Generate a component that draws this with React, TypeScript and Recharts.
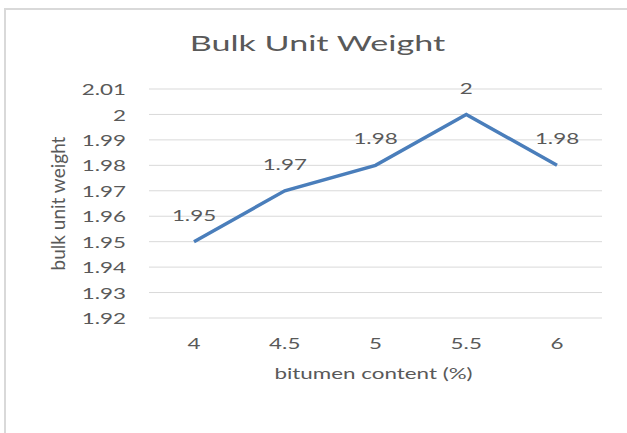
import React from 'react';
import { LineChart, Line, XAxis, YAxis, CartesianGrid, LabelList, Label } from 'recharts';

const bitumenContent = ['4', '4.5', '5', '5.5', '6'];
const bulkUnitWeight = [1.95, 1.97, 1.98, 2.0, 1.98];
const yTicks = [1.92, 1.93, 1.94, 1.95, 1.96, 1.97, 1.98, 1.99, 2.0, 2.01];

const data = bitumenContent.map((c, i) => ({ content: c, weight: bulkUnitWeight[i] }));

const TEXT = '#595959';
const GRID = '#d9d9d9';
const FONT = 'Lato, "Open Sans", sans-serif';
// the reference text looks stretched sideways, so widen glyphs a bit
const SX = 1.4;

const WideText = ({ x, y, anchor = 'middle', size = 16, children }: any) => (
  <text
    transform={`translate(${x},${y}) scale(${SX},1)`}
    textAnchor={anchor}
    dominantBaseline="central"
    fontFamily={FONT}
    fontSize={size}
    fill={TEXT}
  >
    {children}
  </text>
);

const YTick = ({ x, y, payload }: any) => (
  <WideText x={x} y={y} anchor="end">{String(payload.value)}</WideText>
);

const XTick = ({ x, y, payload }: any) => (
  <WideText x={x} y={y}>{payload.value}</WideText>
);

const PointLabel = ({ x, y, value }: any) => (
  <WideText x={x} y={y - 27}>{String(value)}</WideText>
);

export default function App() {
  return (
    <div style={{ position: 'absolute', left: 0, top: 0, width: 627, height: 433, background: '#fff' }}>
      <div
        style={{
          position: 'absolute',
          left: 4,
          top: 8,
          width: 623,
          height: 425,
          borderLeft: `2px solid ${GRID}`,
          borderTop: `2px solid ${GRID}`,
          boxSizing: 'border-box',
        }}
      />
      <div
        style={{
          position: 'absolute',
          left: 4,
          top: 32,
          width: 627,
          textAlign: 'center',
          fontFamily: FONT,
          fontSize: 22,
          lineHeight: '22px',
          color: TEXT,
          transform: 'scaleX(1.55)',
        }}
      >
        Bulk Unit Weight
      </div>
      <LineChart
        width={627}
        height={433}
        data={data}
        margin={{ top: 89, right: 25, bottom: 54, left: 0 }}
        style={{ position: 'absolute', left: 0, top: 0 }}
      >
        <CartesianGrid vertical={false} stroke={GRID} strokeWidth={1} />
        <XAxis
          dataKey="content"
          height={61}
          axisLine={false}
          tickLine={false}
          tickSize={0}
          tickMargin={25}
          padding={{ left: 45, right: 45 }}
          tick={<XTick />}
          interval={0}
        >
          <Label
            content={(props: any) => {
              const vb = props.viewBox;
              return (
                <WideText x={vb.x + vb.width / 2 - 2} y={vb.y + 55}>
                  bitumen content (%)
                </WideText>
              );
            }}
          />
        </XAxis>
        <YAxis
          width={149}
          domain={[1.92, 2.01]}
          ticks={yTicks}
          axisLine={false}
          tickLine={false}
          tickSize={0}
          tickMargin={23}
          tick={<YTick />}
          interval={0}
        >
          <Label
            content={(props: any) => {
              const vb = props.viewBox;
              return (
                <text
                  transform={`translate(${vb.x + 57},${vb.y + vb.height / 2}) rotate(-90)`}
                  textAnchor="middle"
                  dominantBaseline="central"
                  fontFamily={FONT}
                  fontSize={19}
                  fill={TEXT}
                >
                  bulk unit weight
                </text>
              );
            }}
          />
        </YAxis>
        <Line
          type="linear"
          dataKey="weight"
          stroke="#4a7ebb"
          strokeWidth={3.5}
          dot={false}
          activeDot={false}
          isAnimationActive={false}
        >
          <LabelList dataKey="weight" content={<PointLabel />} />
        </Line>
      </LineChart>
    </div>
  );
}
